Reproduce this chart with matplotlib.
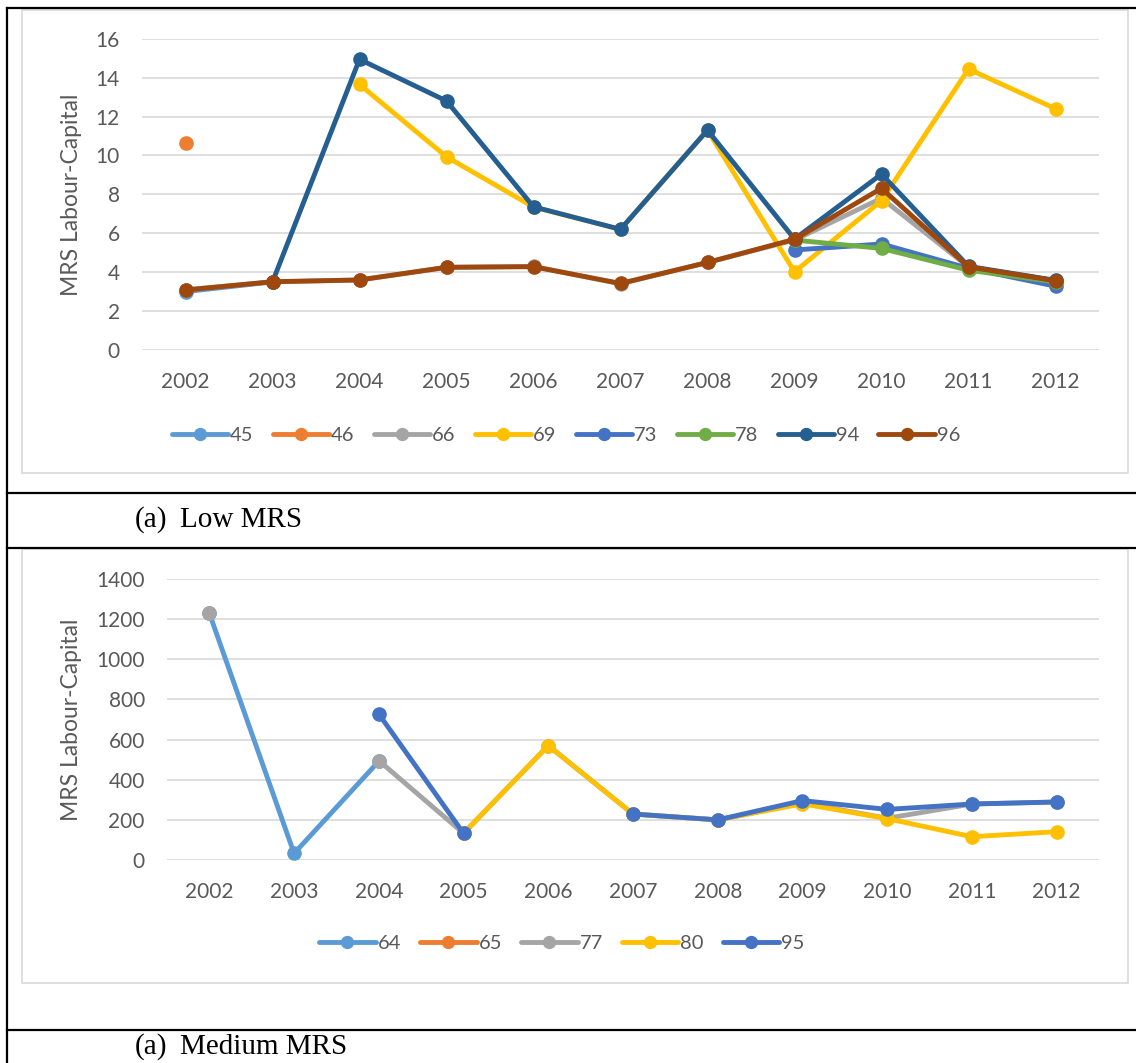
import numpy as np
import matplotlib.pyplot as plt
from matplotlib.lines import Line2D
from matplotlib.patches import Rectangle

nan = np.nan
W, H = 1136, 1063

years = ['2002', '2003', '2004', '2005', '2006', '2007', '2008', '2009', '2010', '2011', '2012']

# (a) Low MRS
low_names = ['45', '46', '66', '69', '73', '78', '94', '96']
low_45 = [3.0, 3.5, nan, nan, nan, nan, nan, nan, nan, nan, nan]
low_46 = [10.65, nan, nan, nan, nan, nan, nan, nan, nan, nan, nan]
low_66 = [3.1, 3.5, 3.6, 4.25, 4.3, 3.4, 4.5, 5.65, 7.8, 4.27, 3.56]
low_69 = [nan, nan, 13.65, 9.93, 7.35, 6.2, 11.3, 4.02, 7.67, 14.44, 12.4]
low_73 = [nan, nan, nan, nan, nan, nan, nan, 5.14, 5.45, 4.2, 3.28]
low_78 = [nan, nan, nan, nan, nan, nan, nan, 5.65, 5.22, 4.1, 3.5]
low_94 = [nan, 3.5, 14.94, 12.8, 7.36, 6.2, 11.3, 5.7, 9.04, 4.3, 3.58]
low_96 = [3.08, 3.51, 3.6, 4.25, 4.28, 3.42, 4.5, 5.69, 8.31, 4.27, 3.56]
low_colors = ['#5B9BD5', '#ED7D31', '#A5A5A5', '#FFC000', '#4472C4', '#70AD47', '#255E91', '#9E480E']

# (a) Medium MRS
med_names = ['64', '65', '77', '80', '95']
med_64 = [1229, 33, 492, nan, nan, nan, nan, nan, nan, nan, nan]
med_65 = [nan, nan, nan, nan, nan, nan, nan, nan, nan, nan, nan]
med_77 = [1229, nan, 495, 133, 570, 229, 200, 285, 208, 279, 289]
med_80 = [nan, nan, nan, 133, 570, 229, 200, 280, 206, 116, 141]
med_95 = [nan, nan, 727, 133, nan, 229, 200, 296, 252, 279, 289]
med_colors = ['#5B9BD5', '#ED7D31', '#A5A5A5', '#FFC000', '#4472C4']

TICK = '#595959'
GRID = '#D9D9D9'
plt.rcParams['font.family'] = ['Lato', 'DejaVu Sans']


def fx(x):
    return x / W


def fy(y):
    return 1 - y / H


def draw_chart(rect, series, names, colors, ymax, ystep, ylabel_x, legend_xy):
    left, top, right, bottom = rect
    ax = fig.add_axes([fx(left), fy(bottom), fx(right) - fx(left), fy(top) - fy(bottom)])
    x = np.arange(len(years))
    for vals, name, c in zip(series, names, colors):
        ax.plot(x, vals, color=c, lw=3.5, marker='o', ms=9.5, label=name,
                solid_capstyle='round', zorder=3)
    ax.set_xlim(-0.5, len(years) - 0.5)
    ax.set_ylim(0, ymax)
    ax.set_yticks(np.arange(0, ymax + ystep / 2, ystep))
    ax.set_xticks(x)
    ax.set_xticklabels(years)
    ax.grid(axis='y', color=GRID, lw=1.2, zorder=0)
    ax.set_axisbelow(True)
    for s in ax.spines.values():
        s.set_visible(False)
    ax.tick_params(length=0, labelsize=15, labelcolor=TICK)
    ax.tick_params(axis='y', pad=16)
    ax.tick_params(axis='x', pad=16)
    ax.patch.set_alpha(0)
    fig.text(fx(ylabel_x), fy((top + bottom) / 2), 'MRS Labour-Capital', rotation=90,
             ha='center', va='center', fontsize=16.5, color=TICK)
    ax.legend(loc='center', bbox_to_anchor=(fx(legend_xy[0]), fy(legend_xy[1])),
              bbox_transform=fig.transFigure, ncol=len(names), frameon=False,
              fontsize=14.5, labelcolor=TICK, handlelength=2.8, handletextpad=0.1,
              columnspacing=0.95, markerscale=0.9)
    return ax


fig = plt.figure(figsize=(W / 100, H / 100), dpi=100)

# chart frames
for (y0, y1) in [(10, 473), (549, 983)]:
    fig.add_artist(Rectangle((fx(22), fy(y1)), fx(1128) - fx(22), fy(y0) - fy(y1),
                             transform=fig.transFigure, fill=False, ec=GRID, lw=1.2))

draw_chart((142, 38.7, 1099, 350),
           [low_45, low_46, low_66, low_69, low_73, low_78, low_94, low_96],
           low_names, low_colors, 16, 2, 72, (566, 435))
draw_chart((167, 579, 1099, 860),
           [med_64, med_65, med_77, med_80, med_95],
           med_names, med_colors, 1400, 200, 72, (562, 943))

# table borders
for y in [8, 493, 548, 1030]:
    fig.add_artist(Line2D([fx(7), 1], [fy(y), fy(y)], transform=fig.transFigure, color='black', lw=1.6))
fig.add_artist(Line2D([fx(7), fx(7)], [fy(8), 0], transform=fig.transFigure, color='black', lw=1.6))

cap = dict(fontsize=21, family='Liberation Serif', va='center')
fig.text(fx(135), fy(520), '(a)', **cap)
fig.text(fx(180), fy(520), 'Low MRS', **cap)
fig.text(fx(135), fy(1047), '(a)', **cap)
fig.text(fx(180), fy(1047), 'Medium MRS', **cap)

fig.savefig('out.png', dpi=100)
